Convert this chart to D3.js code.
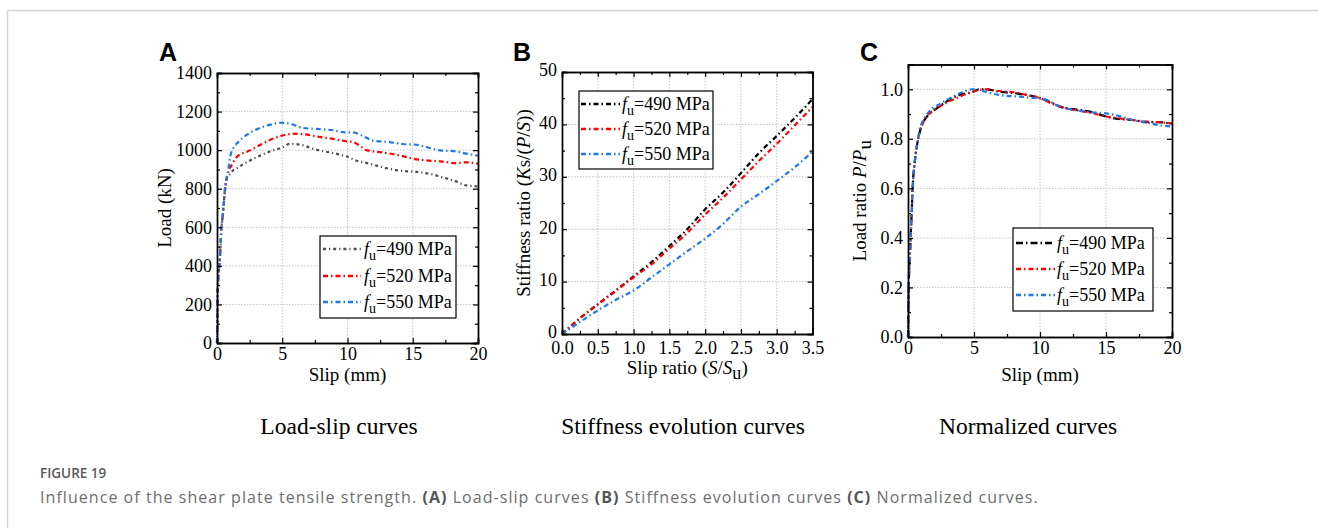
<!DOCTYPE html>
<html><head><meta charset="utf-8">
<script src="https://cdn.jsdelivr.net/npm/d3@7"></script>
<style>
body{margin:0;background:#fff;}
svg{display:block;}
</style></head>
<body>
<svg id="chart" width="1318" height="528"></svg>
<script>
// ---------- DATA ----------
const seriesNames = ["490", "520", "550"];

// Panel A: load-slip curves (Slip mm, Load kN)
const aSlip490 = [0,0.02,0.05,0.18,0.25,0.33,0.43,0.51,0.59,0.71,0.85,1.0,1.15,1.5,1.9,2.3,3.06,4.1,5.0,5.6,6.4,7.6,8.9,9.9,10.7,11.5,12.7,14,15.3,16.6,17.3,18.3,19.1,20];
const aLoad490 = [0,80,260,400,470,590,655,715,780,845,862,876,890,905,922,938,964,994,1014,1033,1028,1002,985,968,945,933,911,894,887,873,859,838,817,812];
const aSlip520 = [0,0.02,0.05,0.18,0.25,0.33,0.43,0.51,0.59,0.71,0.8,0.9,1.07,1.4,2.0,2.3,3.1,4.1,5.1,5.9,6.9,7.6,8.9,9.9,10.4,11,11.5,12.7,14,15,16,17.1,18.3,19.1,20];
const aLoad520 = [0,80,260,400,470,590,655,715,780,845,870,895,916,955,985,992,1020,1054,1077,1085,1080,1071,1058,1046,1042,1020,999,988,973,956,947,942,933,937,930];
const aSlip550 = [0,0.02,0.05,0.18,0.25,0.33,0.43,0.51,0.59,0.71,0.89,1.02,1.35,1.6,2.3,3.1,4.1,4.8,5.6,6.6,7.6,8.9,9.9,10.4,11.2,12,13.2,14.2,15.3,16.3,17.1,18.3,19.1,20];
const aLoad550 = [0,80,260,400,470,590,655,715,780,845,909,970,1020,1040,1080,1110,1132,1142,1137,1115,1110,1103,1092,1092,1072,1049,1042,1032,1028,1011,999,994,982,971];

// Panel B: stiffness evolution (slip ratio, stiffness ratio)
const bRatio   = [0,0.25,0.5,0.75,1.0,1.25,1.5,1.75,2.0,2.25,2.5,2.75,3.0,3.25,3.5];
const bStiff490 = [0,3.0,5.7,8.3,11.0,13.7,16.8,20.0,23.8,27.0,30.7,34.5,37.8,41.2,44.8];
const bStiff520 = [0,3.0,5.6,8.2,10.8,13.3,16.3,19.3,22.8,26.0,29.5,33.0,36.3,39.8,43.3];
const bStiff550 = [0,2.3,4.5,6.5,8.3,10.8,13.3,15.8,18.2,21.0,24.3,26.7,29.2,31.8,34.8];

// Panel C: normalized curves (Slip mm, P/Pu)
const cSlip490 = [0,0.05,0.12,0.2,0.28,0.35,0.5,0.7,0.9,1.1,1.6,2.1,2.9,3.9,4.9,5.4,5.9,6.9,7.95,9,10,11,11.5,12.5,14,15,16,17,18,19,20];
const cLoad490 = [0,0.2,0.3,0.4,0.5,0.6,0.7,0.78,0.83,0.86,0.9,0.92,0.95,0.977,0.99,1.0,1.0,0.99,0.985,0.977,0.965,0.943,0.93,0.92,0.907,0.89,0.88,0.876,0.867,0.867,0.86];
const cSlip520 = [0,0.05,0.12,0.2,0.28,0.35,0.5,0.7,0.9,1.1,1.6,2.1,2.9,3.9,4.9,5.9,6.9,8,9,10,11,12,13,14,15,16,17,18,19,20];
const cLoad520 = [0,0.2,0.3,0.4,0.5,0.6,0.7,0.78,0.83,0.86,0.9,0.92,0.945,0.97,0.99,1.0,0.993,0.988,0.977,0.964,0.94,0.923,0.913,0.903,0.89,0.883,0.876,0.87,0.867,0.862];
const cSlip550 = [0,0.05,0.12,0.2,0.28,0.35,0.5,0.7,0.9,1.6,2.4,3.4,4.2,4.9,5.4,6.2,6.9,8.5,9.7,10.5,11.2,12,13,14,15,16,17,18,19,20];
const cLoad550 = [0,0.2,0.3,0.4,0.5,0.6,0.7,0.78,0.84,0.91,0.94,0.97,0.99,1.0,0.997,0.985,0.977,0.97,0.964,0.957,0.937,0.923,0.913,0.907,0.903,0.892,0.876,0.867,0.855,0.85];

// Ticks
const aXTicks = [0,5,10,15,20];
const aYTicks = [0,200,400,600,800,1000,1200,1400];
const bXTicks = [0,0.5,1.0,1.5,2.0,2.5,3.0,3.5];
const bYTicks = [0,10,20,30,40,50];
const cXTicks = [0,5,10,15,20];
const cYTicks = [0,0.2,0.4,0.6,0.8,1.0];

const subtitles = ["Load-slip curves", "Stiffness evolution curves", "Normalized curves"];
const panelLetters = ["A", "B", "C"];

// ---------- DRAWING ----------
const svg = d3.select("#chart");
const serif = '"Liberation Serif","Times New Roman",serif';

// page frame
svg.append("line").attr("x1",7.5).attr("x2",1318).attr("y1",10.5).attr("y2",10.5).attr("stroke","#d6d6d6").attr("stroke-width",1.5);
svg.append("line").attr("x1",7.5).attr("x2",7.5).attr("y1",10.5).attr("y2",528).attr("stroke","#d6d6d6").attr("stroke-width",1.5);

function addRich(textSel, parts){
  parts.forEach(p=>{
    const t = textSel.append("tspan").text(p.t);
    if(p.i) t.attr("font-style","italic");
    if(p.sub){ t.attr("dy", p.dy || 5).attr("font-size", p.fs || "0.8em"); }
    if(p.back){ t.attr("dy", p.back); }
  });
}

function drawPanel(cfg){
  const g = svg.append("g");
  const x = d3.scaleLinear().domain(cfg.xDomain).range([cfg.left, cfg.right]);
  const y = d3.scaleLinear().domain(cfg.yDomain).range([cfg.bottom, cfg.top]);

  // grid
  g.append("g").selectAll("line").data(cfg.xTicks.filter(v=>v>cfg.xDomain[0] && v<cfg.xDomain[1])).join("line")
    .attr("x1",d=>x(d)).attr("x2",d=>x(d)).attr("y1",cfg.top).attr("y2",cfg.bottom)
    .attr("stroke","#c4c4c4").attr("stroke-width",1).attr("stroke-dasharray","1.5,1.5");
  g.append("g").selectAll("line").data(cfg.yTicks.filter(v=>v>cfg.yDomain[0] && v<cfg.yDomain[1])).join("line")
    .attr("y1",d=>y(d)).attr("y2",d=>y(d)).attr("x1",cfg.left).attr("x2",cfg.right)
    .attr("stroke","#c4c4c4").attr("stroke-width",1).attr("stroke-dasharray","1.5,1.5");

  // series
  const line = d3.line().x(d=>x(d[0])).y(d=>y(d[1])).curve(d3.curveMonotoneX);
  cfg.series.forEach(s=>{
    const pts = s.x.map((v,i)=>[v, s.y[i]]);
    g.append("path").attr("d", line(pts)).attr("fill","none")
      .attr("stroke", s.color).attr("stroke-width", 2.2)
      .attr("stroke-dasharray", s.dash);
  });

  // axes with inward ticks, mirrored
  const axB = d3.axisBottom(x).tickValues(cfg.xTicks).tickSize(-5).tickPadding(cfg.xPad).tickFormat(cfg.xFmt);
  const axT = d3.axisTop(x).tickValues(cfg.xTicks).tickSize(-5).tickFormat("");
  const axL = d3.axisLeft(y).tickValues(cfg.yTicks).tickSize(-5).tickPadding(5).tickFormat(cfg.yFmt);
  const axR = d3.axisRight(y).tickValues(cfg.yTicks).tickSize(-5).tickFormat("");
  const mB = d3.axisBottom(x).tickValues(cfg.xMinor).tickSize(-3).tickFormat("");
  const mT = d3.axisTop(x).tickValues(cfg.xMinor).tickSize(-3).tickFormat("");
  const mL = d3.axisLeft(y).tickValues(cfg.yMinor).tickSize(-3).tickFormat("");
  const mR = d3.axisRight(y).tickValues(cfg.yMinor).tickSize(-3).tickFormat("");
  const style = sel => { sel.select(".domain").attr("stroke","#000").attr("stroke-width",1.4);
    sel.selectAll(".tick line").attr("stroke","#000").attr("stroke-width",1.2);
    sel.selectAll("text").attr("font-family",serif).attr("font-size",18).attr("fill","#000"); };
  [[axB,`translate(0,${cfg.bottom})`],[axT,`translate(0,${cfg.top})`],[axL,`translate(${cfg.left},0)`],[axR,`translate(${cfg.right},0)`],
   [mB,`translate(0,${cfg.bottom})`],[mT,`translate(0,${cfg.top})`],[mL,`translate(${cfg.left},0)`],[mR,`translate(${cfg.right},0)`]]
   .forEach(([ax,tr],k)=>{ const a = g.append("g").attr("transform",tr).call(ax); style(a);
     a.selectAll(".domain").attr("stroke-linecap","square");
     if(k===2 && cfg.yLabelDy) a.selectAll(".tick text").attr("dy", cfg.yLabelDy); });

  // axis titles
  const xt = g.append("text").attr("x",(cfg.left+cfg.right)/2).attr("y",cfg.xTitleY)
    .attr("text-anchor","middle").attr("font-family",serif).attr("font-size",19);
  addRich(xt, cfg.xTitle);
  const yt = g.append("text").attr("transform",`translate(${cfg.yTitleX},${(cfg.top+cfg.bottom)/2+ (cfg.yTitleShift||0)}) rotate(-90)`)
    .attr("text-anchor","middle").attr("font-family",serif).attr("font-size",19);
  addRich(yt, cfg.yTitle);

  // panel letter
  g.append("text").attr("x",cfg.letterX).attr("y",61).attr("font-family","Liberation Sans, Arial, sans-serif")
    .attr("font-weight","bold").attr("font-size",25).text(cfg.letter);

  // legend
  const L = cfg.legend;
  g.append("rect").attr("x",L.x0).attr("y",L.y0).attr("width",L.x1-L.x0).attr("height",L.y1-L.y0)
    .attr("fill","#fff").attr("stroke","#000").attr("stroke-width",1.2);
  cfg.series.forEach((s,i)=>{
    const cy = L.rows[i];
    g.append("line").attr("x1",L.lx0).attr("x2",L.lx1).attr("y1",cy).attr("y2",cy)
      .attr("stroke",s.color).attr("stroke-width",2.6).attr("stroke-dasharray",s.dash);
    const t = g.append("text").attr("x",L.tx).attr("y",cy+6).attr("font-family",serif).attr("font-size",18);
    t.append("tspan").attr("font-style","italic").text("f");
    t.append("tspan").attr("dy",5).attr("font-size",14).text("u");
    t.append("tspan").attr("dy",-5).text("=" + seriesNames[i] + " MPa");
  });

  // subtitle
  g.append("text").attr("x",cfg.subX).attr("y",434).attr("text-anchor","middle")
    .attr("font-family",serif).attr("font-size",23.5).text(cfg.subtitle);
}

const dash = "5,3,1.5,3";
const fmt1 = d3.format(".1f");

drawPanel({
  left:217, right:478, top:73, bottom:343, xPad:4,
  xDomain:[0,20], yDomain:[0,1400], xTicks:aXTicks, yTicks:aYTicks,
  xMinor:[2.5,7.5,12.5,17.5], yMinor:[100,300,500,700,900,1100,1300],
  xFmt:d3.format("d"), yFmt:d3.format("d"),
  series:[
    {x:aSlip490, y:aLoad490, color:"#4d4d4d", dash:"3,3,1.2,3"},
    {x:aSlip520, y:aLoad520, color:"#ff0000", dash:dash},
    {x:aSlip550, y:aLoad550, color:"#1f77e8", dash:dash}],
  xTitle:[{t:"Slip (mm)"}], xTitleY:381,
  yTitle:[{t:"Load (kN)"}], yTitleX:171,
  letter:panelLetters[0], letterX:159,
  legend:{x0:320,x1:456,y0:236,y1:318,rows:[249,276,302],lx0:323,lx1:361,tx:364},
  subtitle:subtitles[0], subX:339
});

drawPanel({
  left:562, right:812.5, top:72, bottom:334, xPad:7, yLabelDy:"0.22em",
  xDomain:[0,3.5], yDomain:[0,50], xTicks:bXTicks, yTicks:bYTicks,
  xMinor:[0.25,0.75,1.25,1.75,2.25,2.75,3.25], yMinor:[5,15,25,35,45],
  xFmt:fmt1, yFmt:d3.format("d"),
  series:[
    {x:bRatio, y:bStiff490, color:"#000000", dash:dash},
    {x:bRatio, y:bStiff520, color:"#ff0000", dash:dash},
    {x:bRatio, y:bStiff550, color:"#1f77e8", dash:dash}],
  xTitle:[{t:"Slip ratio ("},{t:"S",i:true},{t:"/"},{t:"S",i:true},{t:"u",sub:true,dy:5,fs:"0.95em"},{t:")",back:-5}], xTitleY:374,
  yTitle:[{t:"Stiffness ratio ("},{t:"K",i:true},{t:"s/("},{t:"P",i:true},{t:"/"},{t:"S",i:true},{t:"))"}], yTitleX:530,
  letter:panelLetters[1], letterX:513,
  legend:{x0:579,x1:713,y0:91,y1:169,rows:[104,129,154],lx0:581,lx1:620,tx:622},
  subtitle:subtitles[1], subX:683
});

drawPanel({
  left:908, right:1172, top:64.5, bottom:337, xPad:4,
  xDomain:[0,20], yDomain:[0,1.1], xTicks:cXTicks, yTicks:cYTicks,
  xMinor:[2.5,7.5,12.5,17.5], yMinor:[0.1,0.3,0.5,0.7,0.9],
  xFmt:d3.format("d"), yFmt:fmt1,
  series:[
    {x:cSlip490, y:cLoad490, color:"#000000", dash:"7,3,1.5,3"},
    {x:cSlip520, y:cLoad520, color:"#ff0000", dash:dash},
    {x:cSlip550, y:cLoad550, color:"#1f77e8", dash:dash}],
  xTitle:[{t:"Slip (mm)"}], xTitleY:381,
  yTitle:[{t:"Load ratio "},{t:"P",i:true},{t:"/"},{t:"P",i:true},{t:"u",sub:true,dy:5,fs:"1em"}], yTitleX:866,
  letter:panelLetters[2], letterX:860,
  legend:{x0:1013,x1:1153,y0:228,y1:311,rows:[243,269,295],lx0:1016,lx1:1055,tx:1057},
  subtitle:subtitles[2], subX:1028
});

// caption
svg.append("text").attr("x",40).attr("y",478).attr("font-family","'Open Sans', sans-serif")
  .attr("font-size",13.5).attr("font-weight",600).attr("fill","#5a5a5a").text("FIGURE 19");
const cap = svg.append("text").attr("x",40).attr("y",503).attr("font-family","'Open Sans', sans-serif")
  .attr("font-size",16).attr("letter-spacing",1.05).attr("fill","#6e6e6e");
[["Influence of the shear plate tensile strength. ",0],["(A)",1],[" Load-slip curves ",0],["(B)",1],[" Stiffness evolution curves ",0],["(C)",1],[" Normalized curves.",0]]
  .forEach(([t,b])=>{ const s = cap.append("tspan").text(t); if(b) s.attr("font-weight",700).attr("fill","#555"); });
</script>
</body></html>
